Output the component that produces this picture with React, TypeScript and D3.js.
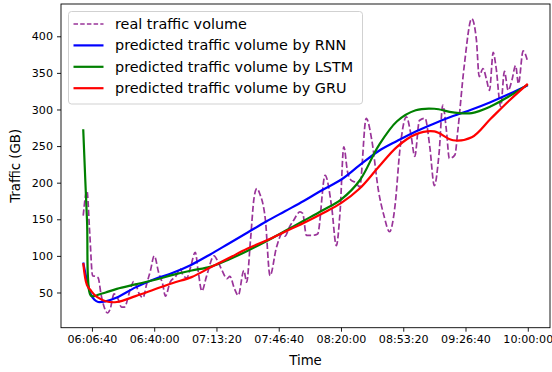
import React, { useEffect, useRef } from 'react';
import * as d3 from 'd3';

// minutes after 06:00 at which the measured traffic was read
const realMinutes = [2, 4, 5.5, 7, 8.5, 10, 11.5, 13.5, 15, 16.5, 18.5, 20.5, 22.5, 24, 27.5, 29, 30, 32, 34, 36, 38, 40, 42.5, 44.5, 46, 48.5, 51.5, 54, 55.5, 57.5, 59.5, 62, 63.5, 65.5, 68, 72, 74.5, 76, 79, 80.5, 83, 85, 88, 89.5, 91.5, 93.5, 95, 96.5, 99.5, 102, 105.5, 108.5, 110, 112.5, 114.5, 118, 119.5, 121.5, 124.5, 127.5, 131.5, 135, 137.5, 139.5, 141.5, 143.5, 145.5, 148, 150, 153.5, 156.5, 160, 163, 166, 169, 171.5, 175, 177.5, 179.5, 182, 185, 187.5, 190, 192.5, 194.5, 196.5, 198, 201, 202.5, 206, 210, 212.5, 214, 216, 218, 219.5, 221.5, 223, 225.5, 227.5, 229.5, 231.5, 233.5, 235, 237.5, 240];
const realTraffic = [155, 189, 130, 73, 72, 70, 48, 28, 22, 28, 48, 42, 30, 30, 57, 65, 62, 48, 43, 62, 80, 100, 76, 62, 45, 64, 72, 82, 73, 70, 85, 105, 80, 52, 72, 100, 90, 82, 69, 72, 55, 46, 80, 64, 120, 180, 192, 185, 150, 73, 112, 130, 127, 140, 148, 160, 158, 128, 128, 130, 210, 167, 114, 160, 249, 215, 203, 200, 194, 288, 258, 190, 155, 133, 170, 244, 290, 265, 236, 285, 288, 250, 196, 240, 306, 270, 233, 238, 270, 360, 424, 395, 345, 356, 340, 326, 378, 358, 304, 352, 326, 340, 360, 335, 380, 365];

// minutes after 06:00 for the model predictions
const predMinutes = [2, 4, 6, 8, 10, 14, 20, 30, 40, 50, 60, 70, 80, 90, 100, 110, 120, 130, 140, 150, 160, 170, 180, 190, 200, 210, 220, 230, 240];
const rnnPred = [91, 66, 48, 40, 37, 38, 43, 57, 68, 77, 88, 102, 117, 132, 147, 161, 175, 190, 204, 224, 243, 257, 270, 281, 291, 300, 310, 321, 333];
const lstmPred = [273, 150, 46, 45, 47, 50, 55, 61, 67, 74, 80, 85, 95, 107, 120, 134, 148, 162, 177, 203, 250, 284, 299, 301, 296, 295, 304, 318, 334];
const gruPred = [90, 60, 53, 47, 43, 38, 37, 45, 54, 63, 71, 84, 97, 110, 121, 133, 145, 158, 172, 192, 221, 249, 266, 270, 258, 262, 287, 312, 335];

const xTickLabels = ['06:06:40', '06:40:00', '07:13:20', '07:46:40', '08:20:00', '08:53:20', '09:26:40', '10:00:00'];
const yTicks = [50, 100, 150, 200, 250, 300, 350, 400];

const legendLabels = [
    'real traffic volume',
    'predicted traffic volume by RNN',
    'predicted traffic volume by LSTM',
    'predicted traffic volume by GRU',
];

const FONT = 'DejaVu Sans, sans-serif';
const base = new Date(2020, 0, 1, 6, 0, 0);
const toDate = (m: number) => new Date(base.getTime() + m * 60000);
const parseClock = (s: string) => {
    const [h, m, sec] = s.split(':').map(Number);
    return new Date(2020, 0, 1, h, m, sec);
};

const App = () => {
    const svgRef = useRef<SVGSVGElement>(null);

    useEffect(() => {
        const svg = d3.select(svgRef.current);
        svg.selectAll('*').remove();

        const left = 61, right = 550, top = 4, bottom = 327.7;

        // matplotlib style 5% margins around the data
        const allMinutes = realMinutes.concat(predMinutes);
        const [m0, m1] = d3.extent(allMinutes) as [number, number];
        const pad = (m1 - m0) * 0.05;
        const xScale = d3.scaleTime()
            .domain([toDate(m0 - pad), toDate(m1 + pad)])
            .range([left, right]);

        const allValues = realTraffic.concat(rnnPred, lstmPred, gruPred);
        const [v0, v1] = d3.extent(allValues) as [number, number];
        const vpad = (v1 - v0) * 0.05;
        const yScale = d3.scaleLinear().domain([v0 - vpad, v1 + vpad]).range([bottom, top]);

        const g = svg.append('g');

        const line = (mins: number[], curve: d3.CurveFactory) =>
            d3.line<number>()
                .x((d, i) => xScale(toDate(mins[i])))
                .y((d) => yScale(d))
                .curve(curve);

        g.append('path')
            .attr('d', line(realMinutes, d3.curveMonotoneX)(realTraffic))
            .attr('fill', 'none')
            .attr('stroke', '#800080')
            .attr('stroke-opacity', 0.8)
            .attr('stroke-width', 1.7)
            .attr('stroke-dasharray', '6.2,2.7');

        const preds = [
            { values: rnnPred, color: '#0000ff' },
            { values: lstmPred, color: '#008000' },
            { values: gruPred, color: '#ff0000' },
        ];
        preds.forEach((p) => {
            g.append('path')
                .attr('d', line(predMinutes, d3.curveCatmullRom.alpha(0.5))(p.values))
                .attr('fill', 'none')
                .attr('stroke', p.color)
                .attr('stroke-width', 2.2)
                .attr('stroke-linejoin', 'round');
        });

        // axes
        const xAxis = d3.axisBottom(xScale)
            .tickValues(xTickLabels.map(parseClock))
            .tickFormat((d, i) => xTickLabels[i])
            .tickSizeOuter(0)
            .tickSize(4)
            .tickPadding(3.5);
        const xg = svg.append('g').attr('transform', `translate(0,${bottom})`).call(xAxis);
        xg.select('.domain').remove();
        xg.selectAll('text').attr('font-family', FONT).attr('font-size', 11.1).attr('fill', '#000');

        const yAxis = d3.axisLeft(yScale)
            .tickValues(yTicks)
            .tickSizeOuter(0)
            .tickSize(4)
            .tickPadding(4);
        const yg = svg.append('g').attr('transform', `translate(${left},0)`).call(yAxis);
        yg.select('.domain').remove();
        yg.selectAll('text').attr('font-family', FONT).attr('font-size', 11.1).attr('fill', '#000');

        svg.selectAll('.tick line').attr('stroke', '#000').attr('stroke-width', 0.9);

        svg.append('rect')
            .attr('x', left).attr('y', top)
            .attr('width', right - left).attr('height', bottom - top)
            .attr('fill', 'none').attr('stroke', '#000').attr('stroke-width', 0.9);

        svg.append('text')
            .attr('x', (left + right) / 2).attr('y', 365)
            .attr('text-anchor', 'middle')
            .attr('font-family', FONT).attr('font-size', 13.3)
            .text('Time');

        svg.append('text')
            .attr('transform', `translate(19.5,${(top + bottom) / 2}) rotate(-90)`)
            .attr('text-anchor', 'middle')
            .attr('font-family', FONT).attr('font-size', 13.3)
            .text('Traffic (GB)');

        // legend
        const lg = svg.append('g');
        lg.append('rect')
            .attr('x', 68.5).attr('y', 11.5)
            .attr('width', 294).attr('height', 92.5)
            .attr('rx', 3)
            .attr('fill', '#fff').attr('fill-opacity', 0.8)
            .attr('stroke', '#cccccc').attr('stroke-width', 0.9);

        const legendStyles = [
            { color: '#800080', dash: '4.5,2.2', width: 1.7, opacity: 0.8 },
            { color: '#0000ff', dash: null, width: 2.2, opacity: 1 },
            { color: '#008000', dash: null, width: 2.2, opacity: 1 },
            { color: '#ff0000', dash: null, width: 2.2, opacity: 1 },
        ];
        legendLabels.forEach((label, i) => {
            const cy = 24 + i * 21.4;
            const s = legendStyles[i];
            lg.append('line')
                .attr('x1', 73.5).attr('x2', 103.5)
                .attr('y1', cy).attr('y2', cy)
                .attr('stroke', s.color)
                .attr('stroke-opacity', s.opacity)
                .attr('stroke-width', s.width)
                .attr('stroke-dasharray', s.dash);
            lg.append('text')
                .attr('x', 115).attr('y', cy + 5)
                .attr('font-family', FONT).attr('font-size', 14.4)
                .text(label);
        });
    }, []);

    return (
        <svg
            ref={svgRef}
            width={552}
            height={372}
            style={{ position: 'absolute', left: 0, top: 0, background: '#fff' }}
        />
    );
};

export default App;
